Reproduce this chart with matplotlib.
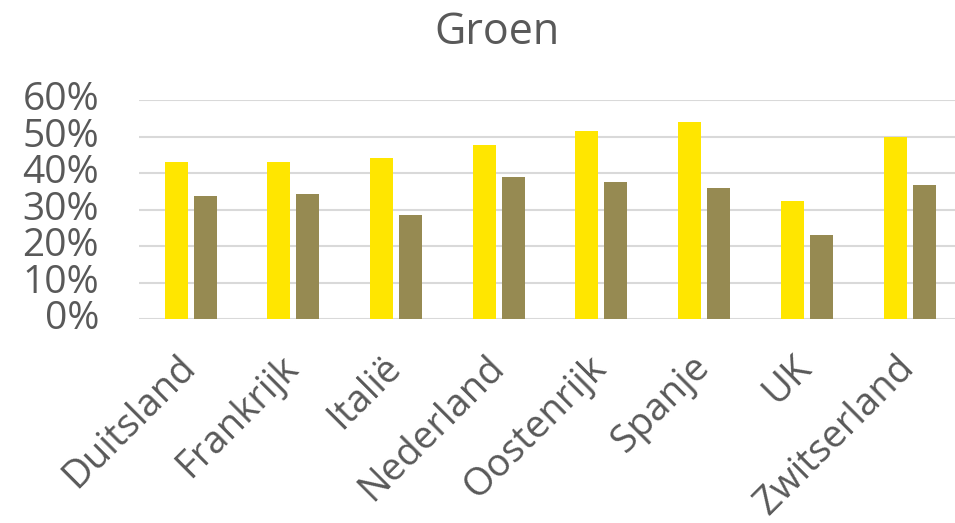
import matplotlib
matplotlib.use("Agg")
import matplotlib.pyplot as plt
import matplotlib.transforms as mtrans
import numpy as np
from matplotlib.ticker import FuncFormatter

# données
landen = ["Duitsland", "Frankrijk", "Italië", "Nederland",
          "Oostenrijk", "Spanje", "UK", "Zwitserland"]
geel = [0.431, 0.429, 0.442, 0.476, 0.516, 0.539, 0.323, 0.498]
olijf = [0.337, 0.343, 0.285, 0.388, 0.375, 0.359, 0.231, 0.368]
titel = "Groen"

plt.rcParams['font.family'] = ['Open Sans', 'DejaVu Sans']
grijs = "#595959"

fig = plt.figure(figsize=(9.55, 5.23), dpi=100)
ax = fig.add_axes([0.1459, 0.390, 0.8603, 0.4187])

x = np.arange(len(landen))
breedte = 0.224
ax.bar(x - 0.141, geel, breedte, color="#FFE600", zorder=3)
ax.bar(x + 0.141, olijf, breedte, color="#968A52", zorder=3)

ax.set_xlim(-0.5, len(landen) - 0.5)
ax.set_ylim(0, 0.6)
ax.set_yticks(np.arange(0, 0.61, 0.1))
ax.yaxis.set_major_formatter(FuncFormatter(lambda v, p: f"{v*100:.0f}%"))
ax.grid(axis="y", color="#D9D9D9", linewidth=1.5, zorder=0)
for s in ax.spines.values():
    s.set_visible(False)
ax.tick_params(axis="both", length=0, colors=grijs)
ax.tick_params(axis="y", labelsize=28, pad=29)
for lab in ax.get_yticklabels():
    lab.set_va("center")

ax.set_xticks(x)
ax.set_xticklabels(landen, rotation=45, ha="right", rotation_mode="anchor",
                   fontsize=27.5, color=grijs)
ax.tick_params(axis="x", pad=18)
# petit décalage des étiquettes vers la gauche / le bas
decal = mtrans.ScaledTranslation(-14 / 100, -4 / 100, fig.dpi_scale_trans)
for lab in ax.get_xticklabels():
    lab.set_transform(lab.get_transform() + decal)

fig.text(0.52, 0.938, titel, ha="center", va="center", fontsize=31, color=grijs)

fig.savefig("out.png", dpi=100)
